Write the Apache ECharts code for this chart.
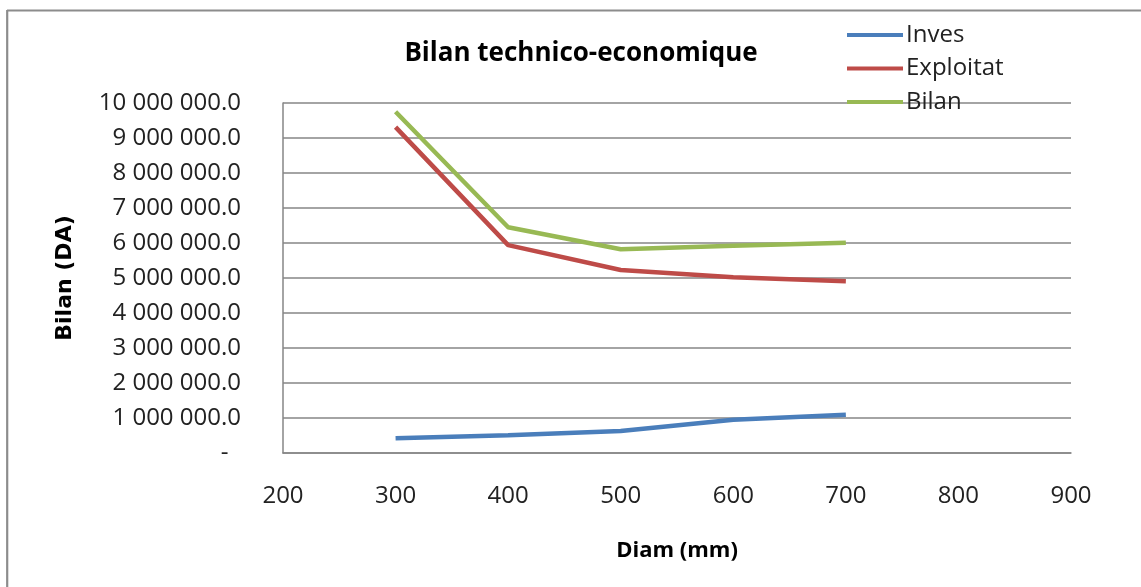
<!DOCTYPE html>
<html>
<head>
<meta charset="utf-8">
<script src="https://cdn.jsdelivr.net/npm/echarts@6/dist/echarts.min.js"></script>
<style>
html,body{margin:0;padding:0;background:#fff;}
#chart{width:1141px;height:587px;}
</style>
</head>
<body>
<div id="chart"></div>
<script>
const diameters = [300, 400, 500, 600, 700];
const inves = [420000, 510000, 630000, 950000, 1090000];
const exploitat = [9310000, 5940000, 5230000, 5020000, 4910000];
const bilan = [9750000, 6450000, 5820000, 5920000, 6010000];
const seriesNames = ['Inves', 'Exploitat', 'Bilan'];
const colors = ['#4a7ebb', '#be4b48', '#98b954'];

function fmt(v) {
  if (v === 0) return '-\u00a0\u00a0';
  const s = Math.round(v).toString().replace(/\B(?=(\d{3})+(?!\d))/g, ' ');
  return s + '.0';
}
function pairs(ys) { return diameters.map((d, i) => [d, ys[i]]); }

const chart = echarts.init(document.getElementById('chart'), null, {renderer: 'canvas'});
chart.setOption({
  backgroundColor: '#ffffff',
  animation: false,
  title: {
    text: 'Bilan technico-economique',
    left: 576, top: 36, textAlign: 'center',
    textStyle: {fontFamily: 'Open Sans', fontWeight: 'bold', fontSize: 26, color: '#000'}
  },
  legend: {
    orient: 'vertical', left: 847, top: 23, padding: 0,
    itemWidth: 56, itemHeight: 24, itemGap: 9.5,
    data: seriesNames.map((n, i) => ({name: n, icon: 'path://M0,10 L56,10 L56,14 L0,14 Z', itemStyle: {color: colors[i]}})),
    textStyle: {fontFamily: 'Open Sans', fontSize: 24, color: '#222', padding: [0, 0, 0, -2]}
  },
  grid: {left: 283, right: 70, top: 103, bottom: 134},
  xAxis: {
    type: 'value', min: 200, max: 900, interval: 100,
    name: 'Diam (mm)', nameLocation: 'middle', nameGap: 87,
    nameTextStyle: {fontFamily: 'Open Sans', fontWeight: 'bold', fontSize: 22, color: '#000'},
    axisLine: {show: true, lineStyle: {color: '#868686', width: 1.5}},
    axisTick: {show: false},
    splitLine: {show: false},
    axisLabel: {margin: 31, fontFamily: 'Open Sans', fontSize: 24, color: '#222'}
  },
  yAxis: {
    type: 'value', min: 0, max: 10000000, interval: 1000000,
    name: 'Bilan (DA)', nameLocation: 'middle', nameGap: 207, nameRotate: 90,
    nameTextStyle: {fontFamily: 'DejaVu Sans', fontWeight: 'bold', fontSize: 22, color: '#000'},
    axisLine: {show: true, lineStyle: {color: '#868686', width: 1.5}},
    axisTick: {show: false},
    splitLine: {show: true, lineStyle: {color: '#868686', width: 1.5}},
    axisLabel: {margin: 42, fontFamily: 'Open Sans', fontSize: 24, color: '#222', formatter: fmt}
  },
  series: [
    {name: seriesNames[0], type: 'line', data: pairs(inves), symbol: 'none', lineStyle: {width: 4.5, color: colors[0]}, itemStyle: {color: colors[0]}},
    {name: seriesNames[1], type: 'line', data: pairs(exploitat), symbol: 'none', lineStyle: {width: 4.5, color: colors[1]}, itemStyle: {color: colors[1]}},
    {name: seriesNames[2], type: 'line', data: pairs(bilan), symbol: 'none', lineStyle: {width: 4.5, color: colors[2]}, itemStyle: {color: colors[2]}}
  ],
  graphic: [
    {type: 'line', shape: {x1: 7, y1: 10.5, x2: 1141, y2: 10.5}, style: {stroke: '#8c8c8c', lineWidth: 2.2}},
    {type: 'line', shape: {x1: 7.2, y1: 10, x2: 7.2, y2: 587}, style: {stroke: '#8c8c8c', lineWidth: 2.2}}
  ]
});
</script>
</body>
</html>
